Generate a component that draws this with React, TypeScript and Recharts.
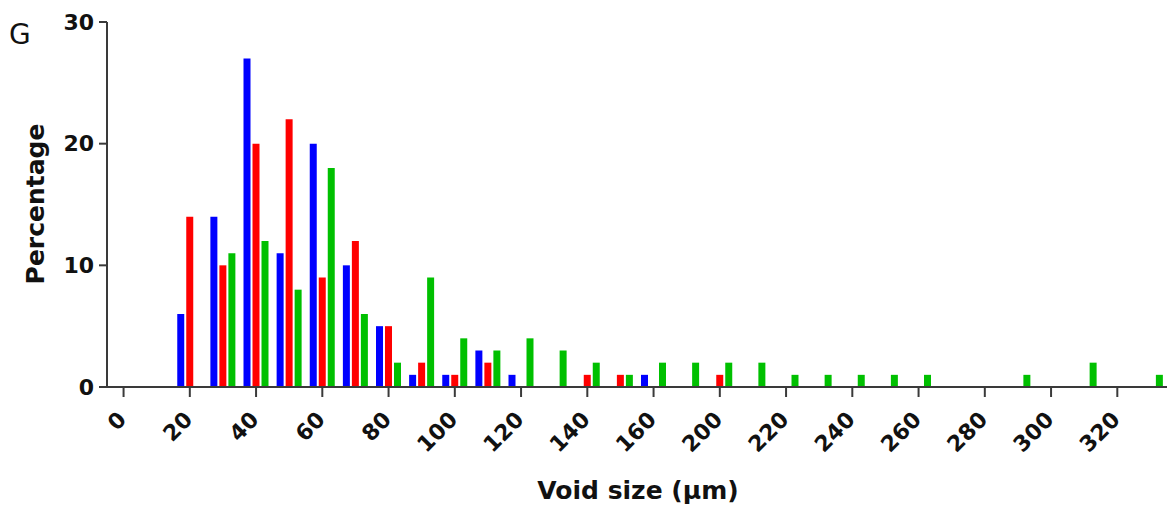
import { BarChart, Bar, XAxis, YAxis } from "recharts";

// bin centres (µm); the original axis jumps from 160 to 190/200
const bins = [
    0, 10, 20, 30, 40, 50, 60, 70, 80, 90, 100, 110, 120, 130, 140, 150, 160,
    190, 200, 210, 220, 230, 240, 250, 260, 270, 280, 290, 300, 310, 320, 330
];

const blueValues = [
    0, 0, 6, 14, 27, 11, 20, 10, 5, 1, 1, 3, 1, 0, 0, 0, 1,
    0, 0, 0, 0, 0, 0, 0, 0, 0, 0, 0, 0, 0, 0, 0
];
const redValues = [
    0, 0, 14, 10, 20, 22, 9, 12, 5, 2, 1, 2, 0, 0, 1, 1, 0,
    0, 1, 0, 0, 0, 0, 0, 0, 0, 0, 0, 0, 0, 0, 0
];
const greenValues = [
    0, 0, 0, 11, 12, 8, 18, 6, 2, 9, 4, 3, 4, 3, 2, 1, 2,
    2, 2, 2, 1, 1, 1, 1, 1, 0, 0, 1, 0, 2, 0, 1
];

const yTicks = [0, 10, 20, 30];

const data = bins.map((b, i) => ({
    bin: String(b),
    blue: blueValues[i] || null,
    red: redValues[i] || null,
    green: greenValues[i] || null
}));

const FONT = "'DejaVu Sans', sans-serif";
const AXIS = "#3a3a3a";

function RotatedTick(props: any) {
    const { x, y, payload } = props;
    return (
        <text
            transform={`translate(${x + 4},${y + 22}) rotate(-45)`}
            textAnchor="end"
            fontFamily={FONT}
            fontWeight="bold"
            fontSize={22}
            fill="#111"
        >
            {payload.value}
        </text>
    );
}

function App() {
    return (
        <div style={{ position: "absolute", left: 0, top: 0, width: 1173, height: 510, background: "#fff" }}>
            <div style={{
                position: "absolute",
                left: 9,
                top: 18,
                fontFamily: FONT,
                fontSize: 28,
                color: "#111"
            }}>
                G
            </div>
            <BarChart
                width={1173}
                height={510}
                data={data}
                margin={{ top: 22, right: 6, left: 0, bottom: 0 }}
                barSize={7}
                barGap={2}
            >
                <XAxis
                    dataKey="bin"
                    interval={1}
                    height={123}
                    tickSize={10}
                    tick={<RotatedTick />}
                    axisLine={{ stroke: AXIS, strokeWidth: 2 }}
                    tickLine={{ stroke: AXIS, strokeWidth: 2 }}
                    label={{
                        content: () => (
                            <text
                                x={638}
                                y={499}
                                textAnchor="middle"
                                fontFamily={FONT}
                                fontWeight="bold"
                                fontSize={25}
                                fill="#111"
                            >
                                Void size (μm)
                            </text>
                        )
                    }}
                />
                <YAxis
                    width={107}
                    domain={[0, 30]}
                    ticks={yTicks}
                    tickSize={8}
                    tickMargin={5}
                    tick={{ fontFamily: FONT, fontWeight: "bold", fontSize: 22, fill: "#111" }}
                    axisLine={{ stroke: AXIS, strokeWidth: 2 }}
                    tickLine={{ stroke: AXIS, strokeWidth: 2 }}
                    label={{
                        content: () => (
                            <text
                                transform="translate(44,204) rotate(-90)"
                                textAnchor="middle"
                                fontFamily={FONT}
                                fontWeight="bold"
                                fontSize={25}
                                fill="#111"
                            >
                                Percentage
                            </text>
                        )
                    }}
                />
                <Bar dataKey="blue" fill="#0000ff" isAnimationActive={false} />
                <Bar dataKey="red" fill="#ff0000" isAnimationActive={false} />
                <Bar dataKey="green" fill="#00c000" isAnimationActive={false} />
            </BarChart>
        </div>
    );
}

export default App;
